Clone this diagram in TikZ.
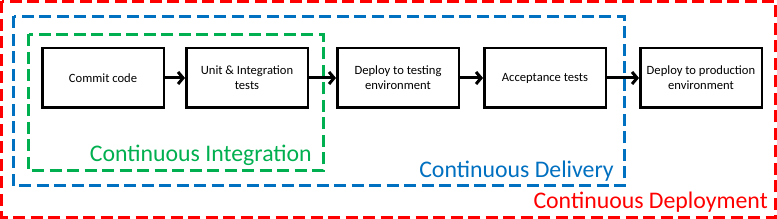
\documentclass[tikz,border=0pt]{standalone}
\usepackage{fontspec}
\setmainfont{Carlito}
\usetikzlibrary{arrows.meta}
\definecolor{cdred}{RGB}{255,0,0}
\definecolor{cdblue}{RGB}{0,112,192}
\definecolor{cdgreen}{RGB}{0,176,80}
\begin{document}
\begin{tikzpicture}[x=1pt,y=1pt,
  stepbox/.style={draw=black,line width=2.5pt,minimum width=121.5pt,minimum height=59.5pt,align=center,font=\fontsize{12.6}{15}\selectfont,inner sep=2pt},
  region/.style={line width=3pt,dash pattern=on 12pt off 5.5pt},
  flow/.style={line width=3pt,-{Straight Barb[length=5pt,width=12pt,line width=3pt]}},
  regionlabel/.style={anchor=base east,inner sep=0pt,font=\fontsize{23.8}{28}\selectfont}]
\useasboundingbox (0,0) rectangle (777,219);
\fill[white] (0,0) rectangle (777,219);
% regions
\draw[region,cdred] (1.5,217.5) rectangle (775.5,1.5);
\draw[region,cdblue] (13.5,202.5) rectangle (624,33);
\draw[region,cdgreen] (28.5,184.5) rectangle (323,48);
% steps
\node[stepbox] (commit) at (103,141) {Commit code};
\node[stepbox] (unit) at (247,141) {Unit \& Integration\\tests};
\node[stepbox] (deptest) at (398,141) {Deploy to testing\\environment};
\node[stepbox] (accept) at (545,141) {Acceptance tests};
\node[stepbox] (depprod) at (701,141) {Deploy to production\\environment};
% arrows
\draw[flow] (commit.east) -- (unit.west);
\draw[flow] (unit.east) -- (deptest.west);
\draw[flow] (deptest.east) -- (accept.west);
\draw[flow] (accept.east) -- (depprod.west);
% labels
\node[regionlabel,text=cdgreen] (lci) at (312,57) {Continuous Integration};
\node[regionlabel,text=cdblue] (lcd) at (614,41) {Continuous Delivery};
\node[regionlabel,text=cdred] (lcdep) at (768,10.5) {Continuous Deployment};
\end{tikzpicture}
\end{document}
